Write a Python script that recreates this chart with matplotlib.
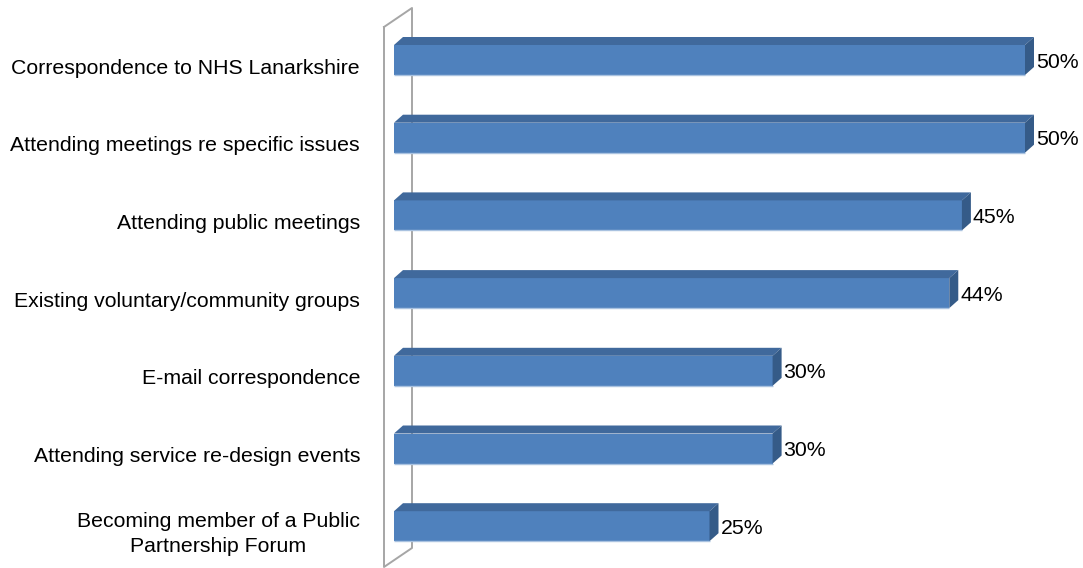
import matplotlib
matplotlib.use("Agg")
import matplotlib.pyplot as plt
from matplotlib.patches import Polygon
from matplotlib.lines import Line2D

plt.rcParams['font.family'] = ['Liberation Sans', 'DejaVu Sans']

categories = [
    "Correspondence to NHS Lanarkshire",
    "Attending meetings re specific issues",
    "Attending public meetings",
    "Existing voluntary/community groups",
    "E-mail correspondence",
    "Attending service re-design events",
    "Becoming member of a Public\nPartnership Forum",
]
values = [50, 50, 45, 44, 30, 30, 25]
value_labels = ["50%", "50%", "45%", "44%", "30%", "30%", "25%"]

FRONT = "#4F81BD"
TOP = "#40699C"
SIDE = "#355B88"
EDGE = "#A9C2E0"
WALL = "#A6A6A6"
FS = 15.3

W, H, DPI = 1083, 568, 100
fig = plt.figure(figsize=(W / DPI, H / DPI), dpi=DPI)
fig.patch.set_facecolor("white")

# axes placed in pixels: x=0 at 394 px, x=50 at 1025 px; category rows 77.7 px apart
x0_px, x50_px = 394, 1025
row_px = 77.7
first_center_px = 60
n = len(categories)
top_px = first_center_px - row_px / 2
bot_px = first_center_px + row_px * (n - 1) + row_px / 2
ax = fig.add_axes([x0_px / W, (H - bot_px) / H, (x50_px - x0_px) / W, (bot_px - top_px) / H])
ax.set_xlim(0, 50)
ax.set_ylim(n - 0.5, -0.5)
ax.axis("off")

px_x = (x50_px - x0_px) / 50.0   # pixels per x unit
px_y = row_px                     # pixels per y unit

bar_h = 30 / px_y
ddx = 9 / px_x      # depth offset to the right
ddy = -8 / px_y     # depth offset upward (y axis inverted)

# back wall of the category axis
wl = -10 / px_x
wdx = 28 / px_x
wdy = -19 / px_y
w_top = -0.425
w_bot = n - 0.475
wall_pts = [(wl, w_top), (wl, w_bot), (wl + wdx, w_bot + wdy), (wl + wdx, w_top + wdy), (wl, w_top)]
ax.add_line(Line2D([p[0] for p in wall_pts], [p[1] for p in wall_pts],
                   color=WALL, lw=1.4, clip_on=False, zorder=1))

ypos = list(range(n))
bars = ax.barh(ypos, values, height=bar_h, color=FRONT, edgecolor="none", zorder=3)
for b in bars:
    b.set_clip_on(False)

for y, v, lab in zip(ypos, values, value_labels):
    yt = y - bar_h / 2
    yb = y + bar_h / 2
    top = Polygon([(0, yt), (ddx, yt + ddy), (v + ddx, yt + ddy), (v, yt)],
                  closed=True, facecolor=TOP, edgecolor="none", zorder=3, clip_on=False)
    side = Polygon([(v, yt), (v + ddx, yt + ddy), (v + ddx, yb + ddy), (v, yb)],
                   closed=True, facecolor=SIDE, edgecolor="none", zorder=3, clip_on=False)
    ax.add_patch(top)
    ax.add_patch(side)
    ax.plot([0, v], [yb, yb], color=EDGE, lw=1.0, zorder=4,
            solid_capstyle="butt", clip_on=False)
    ax.text(v + ddx + 2 / px_x, y + 2 / px_y, lab, ha="left", va="center",
            fontsize=FS, color="black", zorder=5, clip_on=False)

label_tr = ax.get_yaxis_transform()
for y, name in zip(ypos, categories):
    ax.text((360 - x0_px) / (x50_px - x0_px), y + 8 / px_y, name, transform=label_tr,
            ha="right", va="center", multialignment="center", linespacing=1.4,
            fontsize=FS, color="black")

fig.savefig("out.png", dpi=DPI, facecolor="white")
